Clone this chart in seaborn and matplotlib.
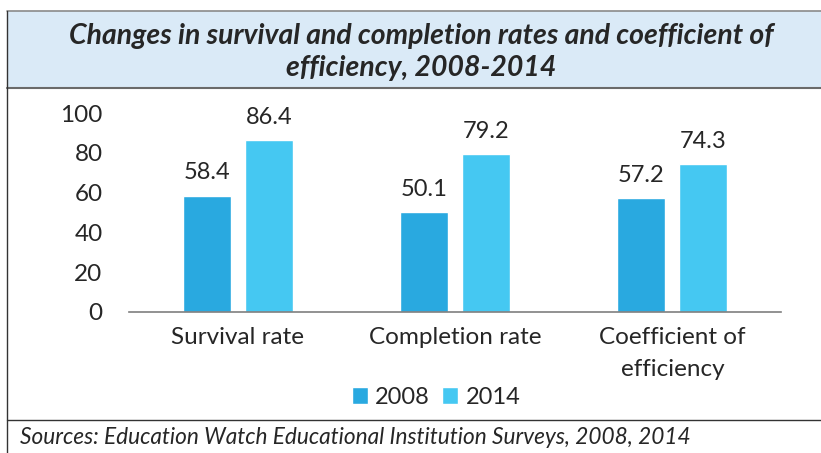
import matplotlib
matplotlib.use("Agg")
import matplotlib.pyplot as plt
import seaborn as sns
import pandas as pd
from matplotlib.patches import Rectangle
from matplotlib.lines import Line2D

# data
categories = ["Survival rate", "Completion rate", "Coefficient of\nefficiency"]
years = ["2008", "2014"]
values_2008 = [58.4, 50.1, 57.2]
values_2014 = [86.4, 79.2, 74.3]
colors = ["#29A9E0", "#45C8F2"]

df = pd.DataFrame({
    "category": categories * 2,
    "year": [years[0]] * 3 + [years[1]] * 3,
    "value": values_2008 + values_2014,
})

sns.set_style("white")
plt.rcParams["font.family"] = ["Lato", "DejaVu Sans"]

W, H = 821, 453
fig = plt.figure(figsize=(W / 100, H / 100), dpi=100)

# kader en titelbalk
fig.patches.append(Rectangle((7 / W, 1 - 88 / H), 1, 77 / H, transform=fig.transFigure,
                             facecolor="#DAEAF7", edgecolor="none", zorder=0))
fig.lines.append(Line2D([7 / W, 1], [1 - 11 / H] * 2, transform=fig.transFigure, color="#8a8a8a", lw=1.2))
fig.lines.append(Line2D([7 / W, 1], [1 - 88 / H] * 2, transform=fig.transFigure, color="#6a6a6a", lw=1.5))
fig.lines.append(Line2D([7 / W, 1], [1 - 420 / H] * 2, transform=fig.transFigure, color="#333333", lw=1.0))
fig.lines.append(Line2D([7 / W] * 2, [0, 1 - 11 / H], transform=fig.transFigure, color="#333333", lw=1.0))

fig.text(421 / W, 1 - 36 / H, "Changes in survival and completion rates and coefficient of",
         ha="center", va="center", fontsize=20.4, fontweight="bold", style="italic")
fig.text(421 / W, 1 - 68 / H, "efficiency, 2008-2014",
         ha="center", va="center", fontsize=20.4, fontweight="bold", style="italic")
fig.text(20 / W, 1 - 438 / H, "Sources: Education Watch Educational Institution Surveys, 2008, 2014",
         ha="left", va="center", fontsize=16.3, style="italic")

ax = fig.add_axes([129 / W, 1 - 312 / H, (781 - 129) / W, (312 - 113) / H])
sns.barplot(data=df, x="category", y="value", hue="year", palette=colors, saturation=1,
            width=0.571, gap=0.226, ax=ax, legend=True)

for c in ax.containers:
    ax.bar_label(c, fmt="%.1f", padding=9, fontsize=17)

ax.set_ylim(0, 100)
ax.set_xlim(-0.5, 2.5)
ax.set_yticks(range(0, 101, 20))
ax.set_xlabel("")
ax.set_ylabel("")
ax.tick_params(axis="both", labelsize=17.5, length=0)
ax.tick_params(axis="y", pad=19)
ax.tick_params(axis="x", pad=11)
for lbl in ax.get_xticklabels():
    lbl.set_linespacing(1.65)
for s in ["top", "right", "left"]:
    ax.spines[s].set_visible(False)
ax.spines["bottom"].set_color("#7f7f7f")
ax.spines["bottom"].set_linewidth(1.2)
ax.set_facecolor("none")

ax.legend(loc="center", bbox_to_anchor=(436 / W, 1 - 397 / H), bbox_transform=fig.transFigure,
          ncol=2, frameon=False, fontsize=17, handlelength=0.7, handleheight=0.7,
          handletextpad=0.3, columnspacing=0.5)

fig.savefig("out.png", dpi=100)
